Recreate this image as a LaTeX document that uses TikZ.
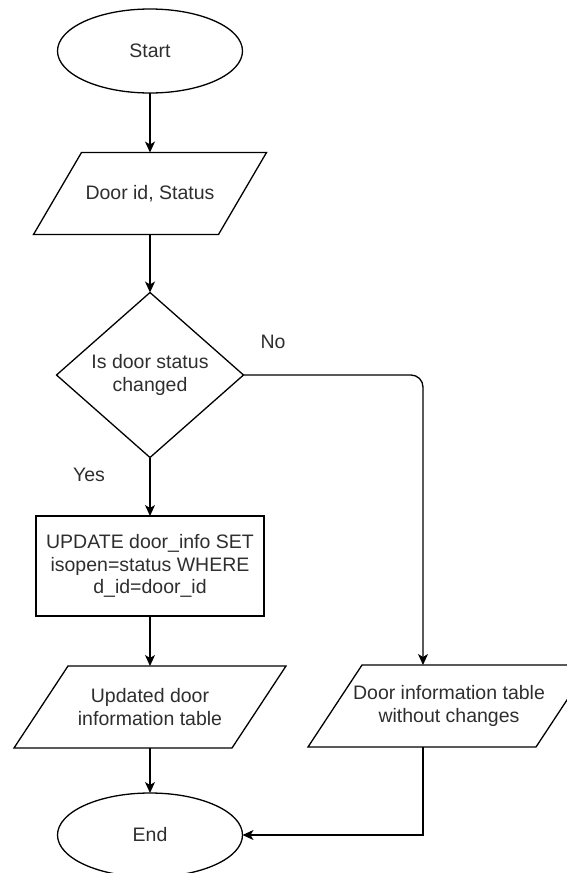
\documentclass[tikz,border=0pt]{standalone}
\usepackage{fontspec}
\setmainfont{Liberation Sans}
\usetikzlibrary{shapes.geometric,arrows.meta}
\begin{document}
\begin{tikzpicture}[x=1pt,y=-1pt,
  line width=1.3pt,
  txt/.style={text=black!82, font=\fontsize{19.5}{22.5}\selectfont, align=center, inner sep=0pt},
  term/.style={ellipse, draw, minimum width=185pt, minimum height=84pt, inner sep=0pt, outer sep=0pt, txt, text=black!82},
  procbox/.style={rectangle, draw, minimum width=228pt, minimum height=100pt, inner sep=0pt, outer sep=0pt, txt},
  decide/.style={diamond, draw, minimum width=187pt, minimum height=165pt, inner sep=0pt, outer sep=0pt},
  iobox/.style={rectangle, draw=none, minimum height=82pt, inner sep=0pt, outer sep=0pt, txt},
  flow/.style={draw, -{Stealth[length=11pt,width=10pt,inset=3pt]}}
]
\useasboundingbox (0,0) rectangle (566,873);
% shapes
\node[term] (start) at (150,51) {Start};
\node[iobox, minimum width=185pt] (p1) at (150,193.5) {Door id, Status};
\draw ([xshift=24pt]p1.north west) -- ([xshift=24pt]p1.north east) -- ([xshift=-24pt]p1.south east) -- ([xshift=-24pt]p1.south west) -- cycle;
\node[decide] (d) at (150,375) {};
\node[txt] (dtext) at (d.center) {Is door status\\changed};
\node[procbox] (r) at (150,566) {UPDATE door\_info SET\\isopen=status WHERE\\d\_id=door\_id};
\node[iobox, minimum width=218pt] (p2) at (150,707) {Updated door\\information table};
\draw ([xshift=27pt]p2.north west) -- ([xshift=27pt]p2.north east) -- ([xshift=-27pt]p2.south east) -- ([xshift=-27pt]p2.south west) -- cycle;
\node[iobox, minimum width=228pt] (p3) at (449,706) {Door information table\\without changes};
\draw ([xshift=27pt]p3.north west) -- ([xshift=27pt]p3.north east) -- ([xshift=-27pt]p3.south east) -- ([xshift=-27pt]p3.south west) -- cycle;
\node[term] (e) at (150,835) {End};
% labels
\node[txt] (no) at (273,342) {No};
\node[txt] (yes) at (89,475) {Yes};
% connector ends
\coordinate (p3top) at ([xshift=-26pt]p3.north);
\coordinate (p3bot) at ([xshift=-26pt]p3.south);
% connectors
\draw[flow] (start) -- (p1.north);
\draw[flow] (p1.south) -- (d.north);
\draw[flow] (d.south) -- (r.north);
\draw[flow] (r.south) -- (p2.north);
\draw[flow] (p2.south) -- (e.north);
\draw[flow, rounded corners=12pt] (d.east) -| (p3top);
\draw[flow] (p3bot) |- (e.east);
\end{tikzpicture}
\end{document}
